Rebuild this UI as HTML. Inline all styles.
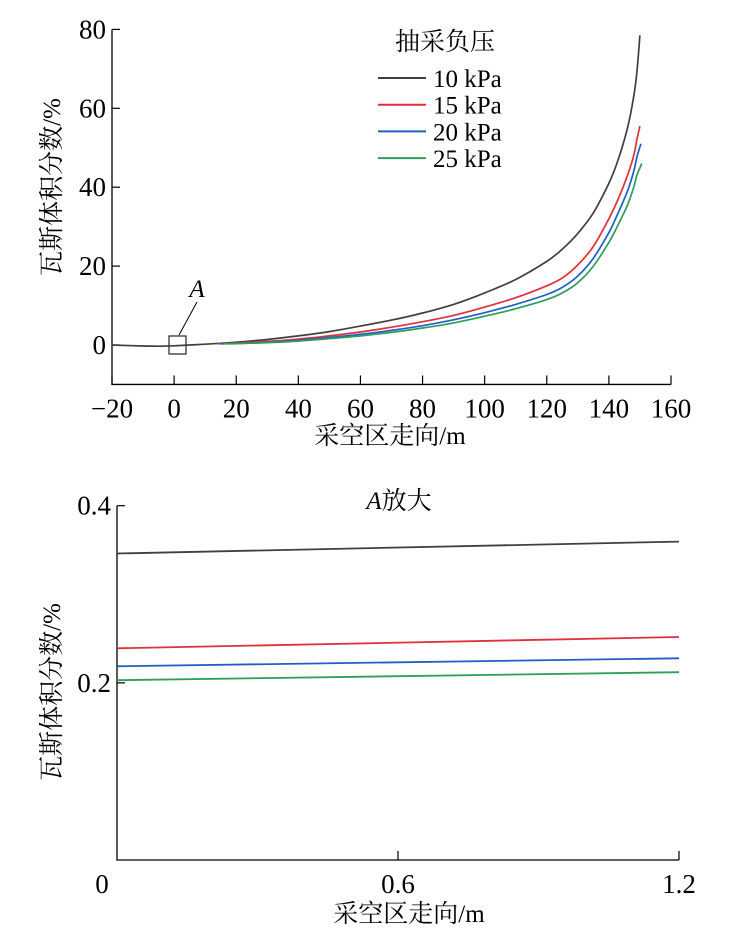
<!DOCTYPE html>
<html><head><meta charset="utf-8"><style>
html,body{margin:0;padding:0;background:#fff;}
svg{display:block;font-family:"Liberation Serif","Noto Serif CJK SC",serif;}
</style></head><body>
<svg id="c" width="734" height="949" viewBox="0 0 734 949"></svg>
<script>
const xs1=[-20,-10,-5,0,5,10,20,30,40,50,60,70,80,90,100,110,120,125,130,135,140,143,146,148,149,150];
const black=[0,-0.25,-0.3,-0.2,0,0.2,0.7,1.4,2.3,3.4,4.8,6.3,8.1,10.3,13.2,16.6,21.2,24.3,28.3,33.5,41,47,55,63,69,78.5];
const xs2=[14,20,30,40,50,60,70,80,90,100,110,120,125,130,135,140,143,146,148,149,150];
const red=[0.3,0.5,0.9,1.5,2.3,3.3,4.5,5.9,7.5,9.6,12,15,17,20.3,25,32,37,43,48,52,55.5];
const xs3=[15,20,30,40,50,60,70,80,90,100,110,120,125,130,135,140,143,146,148,149,150.3];
const blue=[0.3,0.4,0.7,1.2,1.9,2.7,3.7,4.9,6.4,8.2,10.3,12.8,14.6,17.5,22,28.5,33.5,39,44,47.5,51];
const xs4=[16,20,30,40,50,60,70,80,90,100,110,120,125,130,135,140,143,146,148,149,150.6];
const green=[0.3,0.35,0.6,1,1.6,2.3,3.2,4.3,5.6,7.3,9.2,11.5,13.2,15.8,20,26,30.5,35.5,40,43,46];
const xTicks1=[-20,0,20,40,60,80,100,120,140,160];
const yTicks1=[0,20,40,60,80];
const labels=["10 kPa","15 kPa","20 kPa","25 kPa"];
const colors=["#404040","#e0303a","#1f5fc8","#2e9e5a"];
const zx=[0,1.2];
const zBlack=[0.346,0.3595];
const zRed=[0.239,0.2518];
const zBlue=[0.2187,0.2277];
const zGreen=[0.203,0.212];
const xTicks2=[0,0.6,1.2];
const xTickLab2=["0","0.6","1.2"];
const yTicks2=[0.2,0.4];

const svg=document.getElementById('c');
const NS='http://www.w3.org/2000/svg';
function el(t,a,p){const e=document.createElementNS(NS,t);for(const k in a)e.setAttribute(k,a[k]);(p||svg).appendChild(e);return e;}
function txt(s,a){const e=el('text',a);e.textContent=s;return e;}
function smooth(P){
 let d='M'+P[0][0].toFixed(1)+','+P[0][1].toFixed(1);
 for(let i=0;i<P.length-1;i++){
  const p0=P[Math.max(i-1,0)],p1=P[i],p2=P[i+1],p3=P[Math.min(i+2,P.length-1)];
  const c1=[p1[0]+(p2[0]-p0[0])/6,p1[1]+(p2[1]-p0[1])/6];
  const c2=[p2[0]-(p3[0]-p1[0])/6,p2[1]-(p3[1]-p1[1])/6];
  d+='C'+c1[0].toFixed(1)+','+c1[1].toFixed(1)+' '+c2[0].toFixed(1)+','+c2[1].toFixed(1)+' '+p2[0].toFixed(1)+','+p2[1].toFixed(1);
 }
 return d;
}

const X1=v=>112+(v+20)*(559/180);
const Y1=v=>345-v*(78.9/20);
const g1=el('g',{});


let ax=el('path',{d:`M${X1(-20)},${Y1(80)}V${Y1(-10)}H${X1(160)}`,fill:'none',stroke:'#000','stroke-width':1.3},g1);


xTicks1.forEach(v=>{
 const l=el('line',{x1:X1(v),x2:X1(v),y1:Y1(-10),y2:Y1(-10)-9,stroke:'#000','stroke-width':1.2},g1);
 
 
 const t=txt((v<0?'\u2212':'')+Math.abs(v),{x:X1(v),y:Y1(-10)+33,'font-size':27,'text-anchor':'middle'});
 
 
});
yTicks1.forEach(v=>{
 const l=el('line',{x1:X1(-20),x2:X1(-20)+8,y1:Y1(v),y2:Y1(v),stroke:'#000','stroke-width':1.2},g1);
 
 
 const t=txt(String(v),{x:X1(-20)-6,y:Y1(v)+9,'font-size':27,'text-anchor':'end'});
 
 
});
const series=[[xs1,black],[xs2,red],[xs3,blue],[xs4,green]];
series.forEach((s,i)=>{
 const P=s[0].map((x,j)=>[X1(x),Y1(s[1][j])]);
 const p=el('path',{d:smooth(P),fill:'none',stroke:colors[i],'stroke-width':1.7,'stroke-linejoin':'round'});
 
 
});
let t=txt('抽采负压',{x:445,y:50,'font-size':25,'text-anchor':'middle'});


labels.forEach((lb,i)=>{
 const y=78+i*26.7;
 const l=el('line',{x1:378,x2:426,y1:y,y2:y,stroke:colors[i],'stroke-width':2});
 
 
 const tt=txt(lb,{x:433,y:y+9,'font-size':25});
 
 
});
let r=el('rect',{x:169,y:336,width:17,height:18,fill:'none',stroke:'#333','stroke-width':1.3});


let ln=el('line',{x1:179,y1:335,x2:197,y2:302,stroke:'#000','stroke-width':1});


t=txt('A',{x:197,y:297,'font-size':25,'font-style':'italic','text-anchor':'middle'});


t=txt('采空区走向/m',{x:390,y:444,'font-size':25,'text-anchor':'middle'});


t=txt('瓦斯体积分数/%',{x:0,y:0,'font-size':25,'text-anchor':'middle',transform:'translate(60,187) rotate(-90)'});



const X2=v=>117+v*(562/1.2);
const Y2=v=>860-v*(354.3/0.4);
ax=el('path',{d:`M${X2(0)},${Y2(0.4)}V${Y2(0)}H${X2(1.2)}`,fill:'none',stroke:'#000','stroke-width':1.3});


xTicks2.forEach((v,i)=>{
 if(v>0){const l=el('line',{x1:X2(v),x2:X2(v),y1:Y2(0),y2:Y2(0)-9,stroke:'#000','stroke-width':1.2});
 
 }
 const tt=txt(xTickLab2[i],{x:i===0?X2(v)-15:X2(v),y:Y2(0)+33,'font-size':27,'text-anchor':'middle'});
 
 
});
yTicks2.forEach(v=>{
 const l=el('line',{x1:X2(0),x2:X2(0)+8,y1:Y2(v),y2:Y2(v),stroke:'#000','stroke-width':1.2});
 
 
 const tt=txt(v.toFixed(1),{x:X2(0)-6,y:Y2(v)+9,'font-size':27,'text-anchor':'end'});
 
 
});
[zBlack,zRed,zBlue,zGreen].forEach((s,i)=>{
 const d=zx.map((x,j)=>(j?'L':'M')+X2(x).toFixed(1)+','+Y2(s[j]).toFixed(1)).join('');
 const p=el('path',{d,fill:'none',stroke:colors[i],'stroke-width':1.8});
 
 
});
t=el('text',{x:399,y:509,'font-size':25,'text-anchor':'middle'});
t.innerHTML='<tspan font-style="italic">A</tspan>放大';


t=txt('采空区走向/m',{x:409,y:922,'font-size':25,'text-anchor':'middle'});


t=txt('瓦斯体积分数/%',{x:0,y:0,'font-size':25,'text-anchor':'middle',transform:'translate(60,692) rotate(-90)'});


</script>
</body></html>
